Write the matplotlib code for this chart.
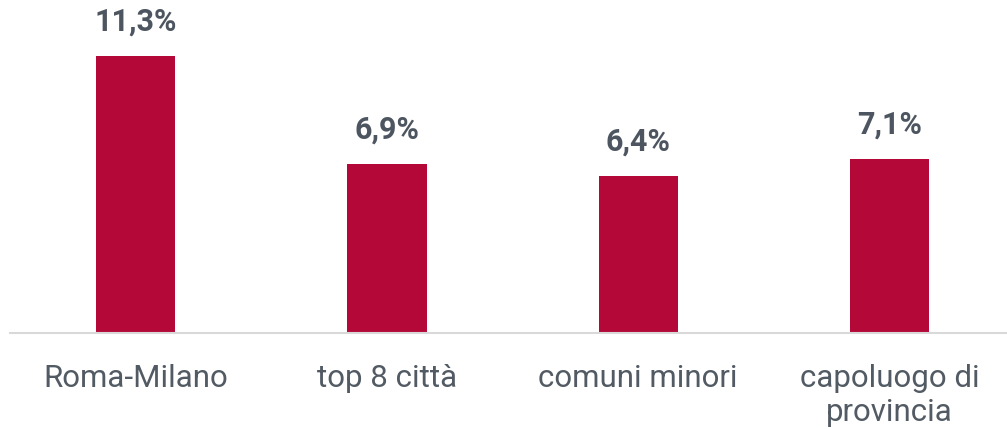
import matplotlib.pyplot as plt
from matplotlib import font_manager

categories = ["Roma-Milano", "top 8 città", "comuni minori", "capoluogo di\nprovincia"]
values = [11.3, 6.9, 6.4, 7.1]
labels = ["11,3%", "6,9%", "6,4%", "7,1%"]

names = {f.name for f in font_manager.fontManager.ttflist}
fam = "Liberation Sans Narrow" if "Liberation Sans Narrow" in names else "Roboto"

bar_col = "#b30838"
txt_col = "#4d5660"

fig = plt.figure(figsize=(10.07, 4.29), dpi=100)
ax = fig.add_axes([10 / 1007, 1 - 333 / 429, 1006 / 1007, 333 / 429])

x = range(len(categories))
ax.bar(x, values, width=0.315, color=bar_col, zorder=2)
ax.set_xlim(-0.5, -0.5 + 1006 / 251.3)
ax.set_ylim(0, 333 / 24.5)

for i, v in enumerate(values):
    ax.text(i, v + 0.8, labels[i], ha="center", va="bottom", fontsize=22,
            fontweight="bold", color=txt_col, family=fam)

ax.set_xticks(list(x))
ax.set_xticklabels(categories, fontsize=22.5, color="#525a63", family=fam,
                   linespacing=1.25, va="top")
ax.tick_params(axis="x", length=0, pad=22)
ax.set_yticks([])
for s in ["top", "right", "left"]:
    ax.spines[s].set_visible(False)
ax.spines["bottom"].set_color("#d9d9d9")
ax.spines["bottom"].set_linewidth(1.5)

fig.savefig("out.png", dpi=100)
